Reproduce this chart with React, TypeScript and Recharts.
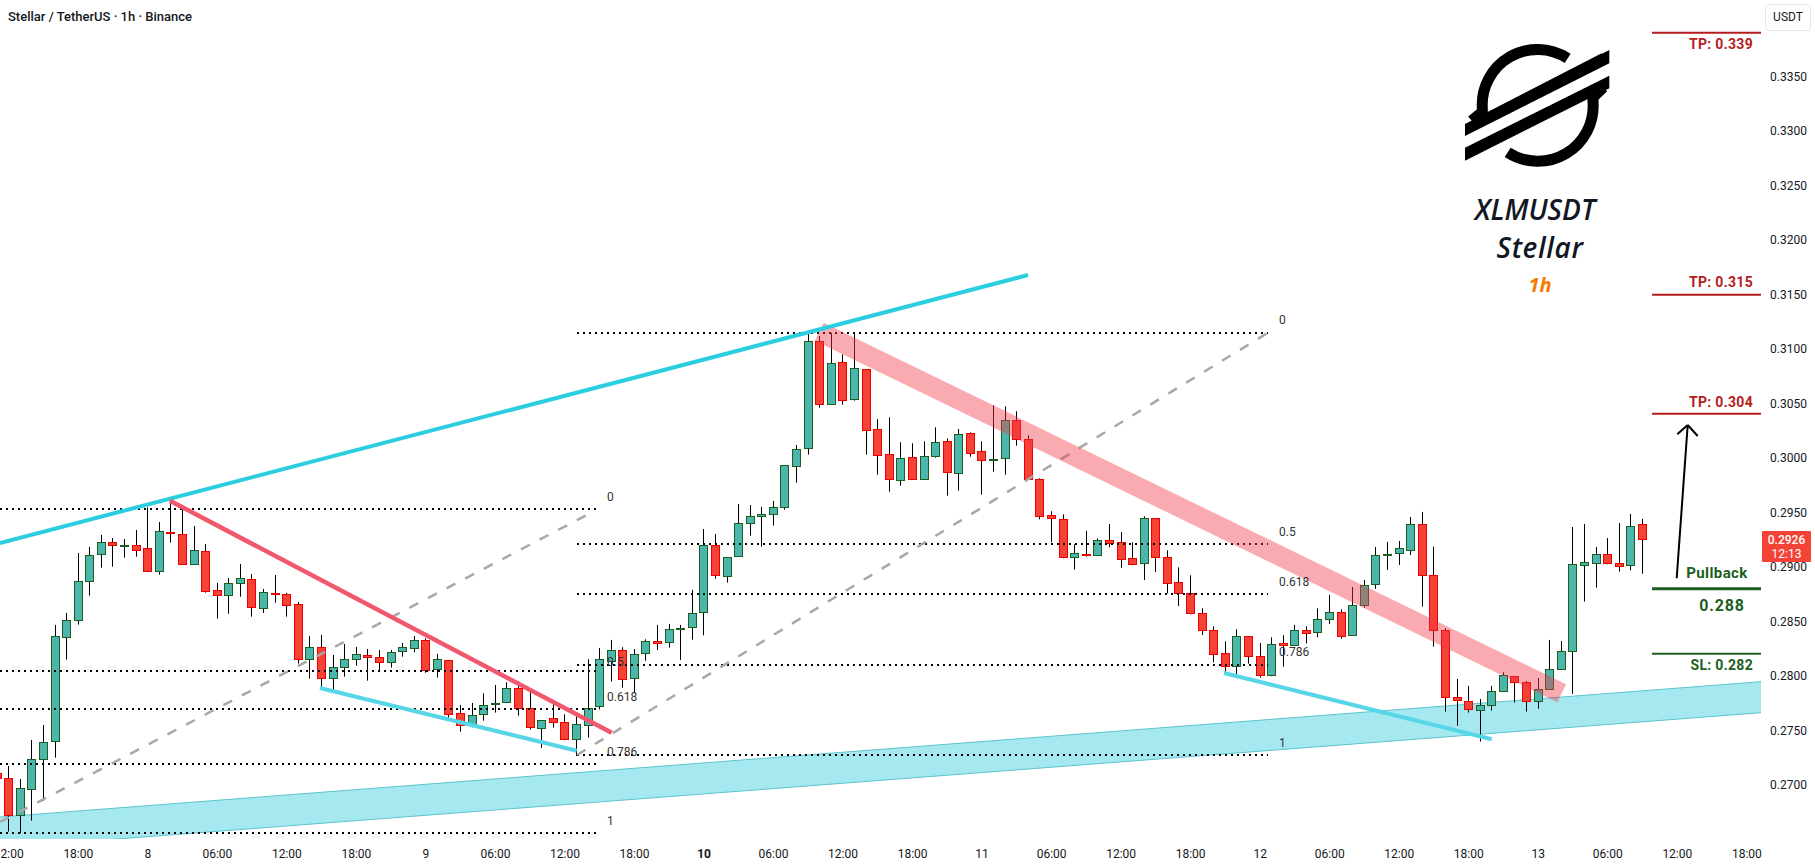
import { Area, Bar, ComposedChart, ReferenceDot, ReferenceLine, XAxis, YAxis } from "recharts";

const WIDTH = 1815;
const HEIGHT = 868;
const PLOT_RIGHT = 1761;
const PLOT_BOTTOM = 839;
const FONT = "Roboto, 'Open Sans', sans-serif";

// one entry per hourly candle, first one is the 11:00 candle on the 7th
const opens = [
  0.27109, 0.27063, 0.26721, 0.26962, 0.27238, 0.274, 0.28353, 0.28512, 0.28867, 0.29118, 0.29228, 0.29197, 0.292, 0.29173, 0.28962, 0.29319,
  0.29301, 0.29026, 0.29145, 0.28787, 0.28742, 0.28852, 0.28888, 0.28622, 0.2876, 0.28751, 0.28659, 0.28155, 0.28265, 0.2798, 0.28081, 0.28155,
  0.28191, 0.28173, 0.28127, 0.28228, 0.28256, 0.28329, 0.28063, 0.28145, 0.27659, 0.27559, 0.2765, 0.27742, 0.2776, 0.27889, 0.27705, 0.27522,
  0.27614, 0.27577, 0.27421, 0.27549, 0.27724, 0.28136, 0.28237, 0.2798, 0.2821, 0.2832, 0.28311, 0.28436, 0.28448, 0.28586, 0.292, 0.28916,
  0.29099, 0.29402, 0.29466, 0.29484, 0.29549, 0.29925, 0.3009, 0.31071, 0.30493, 0.30878, 0.30539, 0.30814, 0.30264, 0.30035, 0.29796, 0.30007,
  0.29805, 0.30016, 0.30154, 0.2986, 0.30227, 0.30062, 0.2998, 0.29998, 0.30347, 0.30172, 0.29805, 0.29475, 0.29439, 0.2909, 0.29118, 0.29108,
  0.29246, 0.29228, 0.29081, 0.29035, 0.29448, 0.2909, 0.28861, 0.2876, 0.28577, 0.28421, 0.2821, 0.2809, 0.28366, 0.28182, 0.28008, 0.28301,
  0.28283, 0.28421, 0.28402, 0.28521, 0.28586, 0.28375, 0.2865, 0.28842, 0.29115, 0.29127, 0.29154, 0.29393, 0.28925, 0.28421, 0.27806, 0.27769,
  0.27687, 0.27733, 0.27861, 0.27999, 0.27944, 0.27769, 0.2788, 0.28063, 0.28228, 0.29017, 0.29035, 0.29118, 0.29035, 0.29017, 0.29393,
];
const highs = [
  0.2717, 0.27176, 0.27057, 0.27415, 0.27552, 0.2847, 0.2858, 0.2913, 0.29185, 0.29295, 0.29267, 0.29258, 0.29341, 0.29549, 0.29414, 0.29616,
  0.2957, 0.29377, 0.29212, 0.28855, 0.28901, 0.29029, 0.28937, 0.288, 0.28928, 0.28763, 0.2868, 0.28369, 0.28378, 0.28194, 0.28295, 0.28268,
  0.28249, 0.2824, 0.2824, 0.28304, 0.28369, 0.28347, 0.28204, 0.28145, 0.27736, 0.27754, 0.27843, 0.27919, 0.27944, 0.27953, 0.27883, 0.27595,
  0.27754, 0.2765, 0.27641, 0.28155, 0.28259, 0.28332, 0.28265, 0.28249, 0.28338, 0.2847, 0.28479, 0.2847, 0.28791, 0.2935, 0.29304, 0.2909,
  0.29579, 0.2957, 0.29552, 0.29607, 0.29934, 0.3012, 0.31151, 0.3112, 0.31147, 0.30952, 0.31147, 0.30814, 0.30356, 0.30374, 0.30145, 0.30136,
  0.30154, 0.30282, 0.30181, 0.30267, 0.30236, 0.30154, 0.30484, 0.30475, 0.30429, 0.30209, 0.29815, 0.29512, 0.29484, 0.29209, 0.29332, 0.29264,
  0.29396, 0.29322, 0.29228, 0.29466, 0.29448, 0.29154, 0.28998, 0.28925, 0.28622, 0.28457, 0.2832, 0.2843, 0.28366, 0.28304, 0.28356, 0.28375,
  0.2847, 0.28457, 0.28622, 0.28745, 0.28613, 0.28818, 0.28882, 0.29185, 0.29231, 0.2924, 0.2946, 0.29506, 0.29188, 0.28439, 0.27974, 0.2791,
  0.27791, 0.2791, 0.28035, 0.27999, 0.27956, 0.27983, 0.28332, 0.28323, 0.29368, 0.29396, 0.29185, 0.29267, 0.29405, 0.29488, 0.29442,
];
const lows = [
  0.26987, 0.26574, 0.26559, 0.26675, 0.26855, 0.27253, 0.28152, 0.28473, 0.28739, 0.28995, 0.29004, 0.29087, 0.29096, 0.28955, 0.28931, 0.29225,
  0.29026, 0.29026, 0.28766, 0.28528, 0.28573, 0.28729, 0.28546, 0.2858, 0.28674, 0.28546, 0.28115, 0.27977, 0.27898, 0.27849, 0.27996, 0.28097,
  0.27959, 0.28051, 0.28078, 0.28179, 0.28219, 0.28032, 0.27987, 0.27598, 0.27491, 0.27531, 0.27592, 0.27666, 0.2776, 0.27638, 0.2751, 0.27341,
  0.27528, 0.27412, 0.27268, 0.27436, 0.27696, 0.2795, 0.27895, 0.27843, 0.28142, 0.2824, 0.28262, 0.28149, 0.28335, 0.28375, 0.28894, 0.28858,
  0.29099, 0.29289, 0.29188, 0.29381, 0.29527, 0.29775, 0.30032, 0.30463, 0.30493, 0.3049, 0.30527, 0.30032, 0.29848, 0.29692, 0.29747, 0.29805,
  0.29805, 0.30004, 0.29656, 0.29701, 0.30013, 0.29665, 0.29876, 0.29848, 0.30114, 0.29805, 0.29439, 0.29228, 0.29081, 0.28977, 0.29096, 0.29108,
  0.29182, 0.28995, 0.29017, 0.28882, 0.28955, 0.2876, 0.28644, 0.28567, 0.28378, 0.28127, 0.28032, 0.27987, 0.28115, 0.27987, 0.27999, 0.28087,
  0.28283, 0.28301, 0.28356, 0.28479, 0.28344, 0.28375, 0.28628, 0.288, 0.28974, 0.2902, 0.29111, 0.28638, 0.28271, 0.27675, 0.27546, 0.27666,
  0.274, 0.27684, 0.27861, 0.27757, 0.27675, 0.27702, 0.2788, 0.28063, 0.27837, 0.28684, 0.28812, 0.29026, 0.28959, 0.28971, 0.2894,
];
const closes = [
  0.2706, 0.26721, 0.26972, 0.27238, 0.27393, 0.28366, 0.28512, 0.2887, 0.29108, 0.29228, 0.29197, 0.292, 0.29154, 0.28962, 0.29329, 0.2931,
  0.29026, 0.29154, 0.28778, 0.28742, 0.28852, 0.28897, 0.28632, 0.28769, 0.28751, 0.2865, 0.28155, 0.28265, 0.2798, 0.28081, 0.28155, 0.282,
  0.28173, 0.28127, 0.28219, 0.28265, 0.28329, 0.28054, 0.28155, 0.2765, 0.27549, 0.27641, 0.27733, 0.27751, 0.27889, 0.27705, 0.27531, 0.27595,
  0.27577, 0.27421, 0.27559, 0.27705, 0.28155, 0.28237, 0.27971, 0.282, 0.2832, 0.28301, 0.2843, 0.28442, 0.28577, 0.292, 0.28925, 0.2909,
  0.29402, 0.29466, 0.29484, 0.29549, 0.29934, 0.30081, 0.31071, 0.30493, 0.30869, 0.3053, 0.30823, 0.30255, 0.30026, 0.29805, 0.29998, 0.29805,
  0.30016, 0.30145, 0.2987, 0.30218, 0.30044, 0.2998, 0.29989, 0.30347, 0.30172, 0.29805, 0.29466, 0.29448, 0.2909, 0.29127, 0.29108, 0.29246,
  0.29218, 0.29072, 0.29026, 0.29448, 0.2909, 0.28852, 0.2876, 0.28577, 0.28421, 0.282, 0.2809, 0.28366, 0.28182, 0.28008, 0.28292, 0.28283,
  0.28421, 0.28393, 0.28521, 0.28586, 0.28366, 0.2865, 0.28833, 0.29108, 0.29118, 0.29173, 0.29393, 0.28925, 0.28421, 0.27806, 0.27782, 0.27696,
  0.27733, 0.27861, 0.28008, 0.27944, 0.27769, 0.2788, 0.28063, 0.28228, 0.29026, 0.29044, 0.29118, 0.29035, 0.29008, 0.29374, 0.2926,
];

const timeLabels = [
  "12:00", "18:00", "8", "06:00", "12:00", "18:00", "9", "06:00", "12:00", "18:00", "10", "06:00", "12:00",
  "18:00", "11", "06:00", "12:00", "18:00", "12", "06:00", "12:00", "18:00", "13", "06:00", "12:00", "18:00",
];
const timeTicks = timeLabels.map((_, k) => k * 6);
const priceTicks = [0.27, 0.275, 0.28, 0.285, 0.29, 0.295, 0.3, 0.305, 0.31, 0.315, 0.32, 0.325, 0.33, 0.335];

const candles = opens.map((open, k) => ({
  hour: k - 1,
  open,
  close: closes[k],
  range: [lows[k], highs[k]],
}));

// the hand drawn annotations were placed on screen, so map screen spots back to chart units
const xAt = (px: number) => (px - 8.8) / 11.587;
const yAt = (py: number) => 0.3 + (458.1 - py) / 10903;
const X_DOMAIN = [xAt(0), xAt(PLOT_RIGHT)];
const Y_DOMAIN = [yAt(PLOT_BOTTOM), yAt(0)];

const fibLeft = [509, 671, 709, 764, 833];
const fibRight = [333, 544, 594, 665, 755];

const supportBand = [
  { hour: xAt(0), band: [yAt(848), yAt(817)] },
  { hour: xAt(PLOT_RIGHT), band: [yAt(712.7), yAt(681.7)] },
];

function Candle(props: any) {
  const { x, y, width, height, payload } = props;
  const [low, high] = payload.range;
  const perPrice = height / (high - low);
  const top = y + (high - Math.max(payload.open, payload.close)) * perPrice;
  const bottom = y + (high - Math.min(payload.open, payload.close)) * perPrice;
  const c = Math.floor(x + width / 2);
  const up = payload.close >= payload.open;
  return (
    <g>
      <rect x={c} y={y} width={1} height={height} fill="#000000" />
      <rect
        x={c - 3.5}
        y={Math.round(top) + 0.5}
        width={8}
        height={Math.max(Math.round(bottom - top), 1)}
        fill={up ? "#4db6ac" : "#f44336"}
        stroke={up ? "#1b5e20" : "#ee0000"}
        strokeWidth={1}
      />
    </g>
  );
}

function TimeTick(props: any) {
  const { x, y, payload } = props;
  const label = timeLabels[payload.value / 6];
  return (
    <text x={x} y={y + 11} textAnchor="middle" fontSize={12} fontFamily={FONT} fontWeight={label === "10" ? 700 : 400} fill="#131722">
      {label}
    </text>
  );
}

function seg(x1: number, y1: number, x2: number, y2: number, stroke: string, strokeWidth: number, extra: any = {}) {
  return (
    <ReferenceLine
      key={`${x1}-${y1}-${x2}-${y2}`}
      segment={[
        { x: xAt(x1), y: yAt(y1) },
        { x: xAt(x2), y: yAt(y2) },
      ]}
      stroke={stroke}
      strokeWidth={strokeWidth}
      {...extra}
    />
  );
}

function note(text: string, px: number, py: number, style: any) {
  return (
    <ReferenceDot
      key={`${text}-${px}-${py}`}
      x={xAt(px)}
      y={yAt(py)}
      r={0}
      shape={(p: any) => (
        <text x={p.cx} y={p.cy} dominantBaseline="central" fontFamily={FONT} {...style}>
          {text}
        </text>
      )}
    />
  );
}

const fibText = { fontSize: 12, fill: "#333333" };
const tpText = { fontSize: 14, fontWeight: 700, fill: "#b71c1c", textAnchor: "end", letterSpacing: 0.3 };
const slText = { fontSize: 14, fontWeight: 700, fill: "#1b5e20", textAnchor: "end", letterSpacing: 0.3 };
const dots = { strokeDasharray: "2 4" };
const dashes = { strokeDasharray: "10 11" };

function StellarLogo() {
  return (
    <svg width={400} height={300} viewBox="0 0 1200 900" style={{ position: "absolute", left: 1415, top: 0 }}>
      <path d="M458 175 A166 166 0 0 0 202 325 L202 336 L170 362" fill="none" stroke="#000000" strokeWidth={33} />
      <path d="M278 457 A166 166 0 0 0 534 305 L534 292 L565 262" fill="none" stroke="#000000" strokeWidth={33} />
      <polygon points="150,372 583,150 583,190 150,408" fill="#000000" />
      <polygon points="150,443 583,227 583,265 150,482" fill="#000000" />
      <polygon points="218,336 560,160 560,180 218,354" fill="#000000" />
    </svg>
  );
}

export default function App() {
  return (
    <div style={{ position: "absolute", left: 0, top: 0, width: WIDTH, height: HEIGHT, background: "#ffffff", overflow: "hidden" }}>
      <ComposedChart width={WIDTH} height={HEIGHT} data={candles} margin={{ top: 0, right: 0, bottom: 0, left: 0 }}>
        <XAxis
          dataKey="hour"
          type="number"
          domain={X_DOMAIN}
          allowDataOverflow
          ticks={timeTicks}
          interval={0}
          height={HEIGHT - PLOT_BOTTOM}
          axisLine={false}
          tickLine={false}
          tick={<TimeTick />}
        />
        <YAxis
          orientation="right"
          type="number"
          domain={Y_DOMAIN}
          allowDataOverflow
          ticks={priceTicks}
          interval={0}
          width={WIDTH - PLOT_RIGHT}
          axisLine={false}
          tickLine={false}
          tickSize={0}
          tickMargin={9}
          tickFormatter={(v: number) => v.toFixed(4)}
          tick={{ fontSize: 12, fontFamily: FONT, fill: "#131722", textAnchor: "start" }}
        />

        <Area
          data={supportBand}
          dataKey="band"
          type="linear"
          fill="#26c6da"
          fillOpacity={0.41}
          stroke="#5cc4d0"
          strokeWidth={1}
          dot={false}
          activeDot={false}
          isAnimationActive={false}
        />

        {fibLeft.map((py) => seg(0, py, 596, py, "#000000", 2, dots))}
        {fibRight.map((py) => seg(577, py, 1268, py, "#000000", 2, dots))}
        {seg(0, 822, 593, 511.7, "#a8a8a8", 2.5, dashes)}
        {seg(577, 755, 1268, 332.7, "#a8a8a8", 2.5, dashes)}

        {note("0", 607, 496.7, fibText)}
        {note("0.5", 607, 661.7, fibText)}
        {note("0.618", 607, 696.7, fibText)}
        {note("0.786", 607, 751.7, fibText)}
        {note("1", 607, 820.7, fibText)}
        {note("0", 1279, 320, fibText)}
        {note("0.5", 1279, 531.7, fibText)}
        {note("0.618", 1279, 581.7, fibText)}
        {note("0.786", 1279, 651.7, fibText)}
        {note("1", 1279, 742.7, fibText)}

        {seg(819.3, 331.7, 1561.7, 693.3, "#f23645", 20, { strokeOpacity: 0.42 })}
        {seg(0, 543, 1028, 275, "#2bcde0", 4)}
        {seg(170, 500.7, 611.7, 732.7, "#f2586c", 4.5)}
        {seg(320, 688, 576.7, 750.7, "#57d6e8", 4)}
        {seg(1224, 673, 1491.7, 739.3, "#57d6e8", 4)}

        {seg(1652, 32.7, PLOT_RIGHT, 32.7, "#b71c1c", 2)}
        {seg(1652, 294.7, PLOT_RIGHT, 294.7, "#b71c1c", 2)}
        {seg(1652, 413.7, PLOT_RIGHT, 413.7, "#b71c1c", 2)}
        {seg(1652, 588.7, PLOT_RIGHT, 588.7, "#1b5e20", 3)}
        {seg(1652, 653.7, PLOT_RIGHT, 653.7, "#1b5e20", 2)}
        {note("TP: 0.339", 1753, 44, tpText)}
        {note("TP: 0.315", 1753, 282, tpText)}
        {note("TP: 0.304", 1753, 402, tpText)}
        {note("SL: 0.282", 1753, 665, slText)}
        {note("Pullback", 1717, 573, { fontSize: 15, fontWeight: 700, fill: "#1b5e20", textAnchor: "middle", letterSpacing: 0.4 })}
        {note("0.288", 1722, 605, { fontSize: 16, fontWeight: 700, fill: "#1b5e20", textAnchor: "middle", letterSpacing: 0.8 })}

        {seg(1676.7, 578.3, 1687.7, 425, "#000000", 2)}
        {seg(1677.3, 434.3, 1687.7, 425, "#000000", 2)}
        {seg(1697.7, 436, 1687.7, 425, "#000000", 2)}

        <Bar dataKey="range" barSize={9} shape={<Candle />} isAnimationActive={false} />
      </ComposedChart>

      <StellarLogo />
      <div style={{ position: "absolute", left: 8, top: 9, fontFamily: FONT, fontSize: 13, fontWeight: 500, color: "#131722", whiteSpace: "nowrap" }}>
        Stellar / TetherUS · 1h · Binance
      </div>
      <div style={{ position: "absolute", left: 1415, top: 193, width: 240, textAlign: "center", fontFamily: "'Open Sans', sans-serif", fontStyle: "italic", fontWeight: 600, fontSize: 28, lineHeight: "32px", color: "#131722" }}>
        <span style={{ position: "absolute", left: 0, width: 240, textAlign: "center" }}>XLMUSDT</span>
        <span style={{ position: "absolute", left: 5, top: 38, width: 240, textAlign: "center", letterSpacing: 0.6 }}>Stellar</span>
        <span style={{ position: "absolute", left: 5, top: 76, width: 240, textAlign: "center", color: "#f57c00", fontSize: 20, fontWeight: 700 }}>1h</span>
      </div>
      <div style={{ position: "absolute", left: 1765, top: 4, width: 44, height: 25, border: "1px solid #e6e6e6", borderRadius: 4, fontFamily: FONT, fontSize: 12, lineHeight: "25px", textAlign: "center", color: "#131722" }}>
        USDT
      </div>
      <div style={{ position: "absolute", left: 1762, top: 531, width: 49, height: 31, background: "#f44336", color: "#ffffff", fontFamily: FONT, fontSize: 12, lineHeight: "14px", textAlign: "center", paddingTop: 2, boxSizing: "border-box", borderRadius: 1 }}>
        <div style={{ fontWeight: 500 }}>0.2926</div>
        <div>12:13</div>
      </div>
    </div>
  );
}
